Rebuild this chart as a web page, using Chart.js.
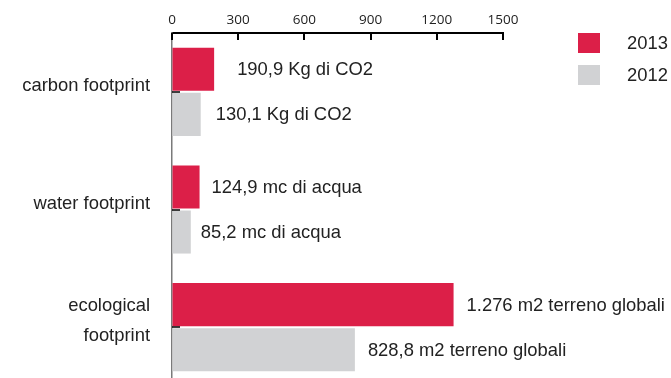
<!DOCTYPE html>
<html>
<head>
<meta charset="utf-8">
<script src="https://cdn.jsdelivr.net/npm/chart.js@4"></script>
<style>
  html, body { margin: 0; padding: 0; background: #fff; overflow: hidden; }
  #wrap { position: relative; width: 671px; height: 386px; }
</style>
</head>
<body>
<div id="wrap"><canvas id="chart"></canvas></div>
<script>
// Data
const categories = [['carbon footprint'], ['water footprint'], ['ecological', 'footprint']];
const values2013 = [190.9, 124.9, 1276];
const values2012 = [130.1, 85.2, 828.8];
const labels2013 = ['190,9 Kg di CO2', '124,9 mc di acqua', '1.276 m2 terreno globali'];
const labels2012 = ['130,1 Kg di CO2', '85,2 mc di acqua', '828,8 m2 terreno globali'];
const xTicks = [0, 300, 600, 900, 1200, 1500];

const COLORS = {
    red: '#dc1f48',
    gray: '#d1d2d4',
    text: '#222222',
    axisLeft: '#7a7a7a'
};

const TEXT_FONT = '"Liberation Sans", Arial, Helvetica, sans-serif';
const TEXT_SIZE = 18.4;

// gap between bar end and its value label (2013 row, 2012 row)
const LABEL_GAPS = [[23, 12, 13], [15, 10, 13]];

// Tick marks pointing into the plot, value labels and the legend
const extrasPlugin = {
    id: 'extras',
    afterDraw(chart) {
        const ctx = chart.ctx;
        const x = chart.scales.x;
        const y = chart.scales.y;
        const area = chart.chartArea;
        ctx.save();

        // top axis ticks (downward)
        ctx.strokeStyle = '#000';
        ctx.lineWidth = 2;
        xTicks.forEach(v => {
            const px = Math.round(x.getPixelForValue(v));
            ctx.beginPath();
            ctx.moveTo(px, area.top);
            ctx.lineTo(px, area.top + 7);
            ctx.stroke();
        });

        // category ticks on left axis (to the right)
        ctx.lineWidth = 1.5;
        categories.forEach((c, i) => {
            const py = Math.round(y.getPixelForValue(i));
            ctx.beginPath();
            ctx.moveTo(area.left, py);
            ctx.lineTo(area.left + 8, py);
            ctx.stroke();
        });

        // value labels
        ctx.fillStyle = COLORS.text;
        ctx.font = TEXT_SIZE + 'px ' + TEXT_FONT;
        ctx.textBaseline = 'middle';
        ctx.textAlign = 'left';
        [labels2013, labels2012].forEach((labels, di) => {
            const meta = chart.getDatasetMeta(di);
            meta.data.forEach((bar, i) => {
                ctx.fillText(labels[i], bar.x + LABEL_GAPS[di][i], bar.y + 1);
            });
        });

        // legend
        const legend = [['2013', COLORS.red], ['2012', COLORS.gray]];
        legend.forEach((item, i) => {
            const top = 33 + i * 32;
            ctx.fillStyle = item[1];
            ctx.fillRect(578, top, 22, 20);
            ctx.fillStyle = COLORS.text;
            ctx.fillText(item[0], 627, top + 11);
        });

        ctx.restore();
    }
};

new Chart(document.getElementById('chart'), {
    type: 'bar',
    data: {
        labels: categories,
        datasets: [
            {
                label: '2013',
                data: values2013,
                backgroundColor: COLORS.red,
                categoryPercentage: 0.766,
                barPercentage: 0.955
            },
            {
                label: '2012',
                data: values2012,
                backgroundColor: COLORS.gray,
                categoryPercentage: 0.766,
                barPercentage: 0.955
            }
        ]
    },
    options: {
        indexAxis: 'y',
        responsive: true,
        maintainAspectRatio: false,
        animation: false,
        layout: {
            padding: { top: 0, right: 168, bottom: 0, left: 0 }
        },
        plugins: {
            legend: { display: false },
            tooltip: { enabled: false }
        },
        scales: {
            x: {
                position: 'top',
                min: 0,
                max: 1500,
                afterFit: function(scale) {
                    scale.height = 33;
                    scale.paddingLeft = 0;
                    scale.paddingRight = 0;
                },
                grid: { display: true, drawOnChartArea: false, drawTicks: false },
                border: { display: true, color: '#000', width: 2 },
                ticks: {
                    stepSize: 300,
                    color: COLORS.text,
                    padding: 5,
                    maxRotation: 0,
                    font: { family: '"Open Sans", sans-serif', size: 13.5 },
                    callback: function(value) { return String(value); }
                }
            },
            y: {
                afterFit: function(scale) {
                    scale.width = 172;
                    scale.paddingTop = 0;
                    scale.paddingBottom = 0;
                },
                grid: { display: false, drawTicks: false },
                border: { display: true, color: COLORS.axisLeft, width: 1.5 },
                ticks: {
                    color: COLORS.text,
                    padding: 22,
                    labelOffset: -6,
                    font: { family: TEXT_FONT, size: TEXT_SIZE, lineHeight: 1.65 }
                }
            }
        }
    },
    plugins: [extrasPlugin]
});
</script>
</body>
</html>
